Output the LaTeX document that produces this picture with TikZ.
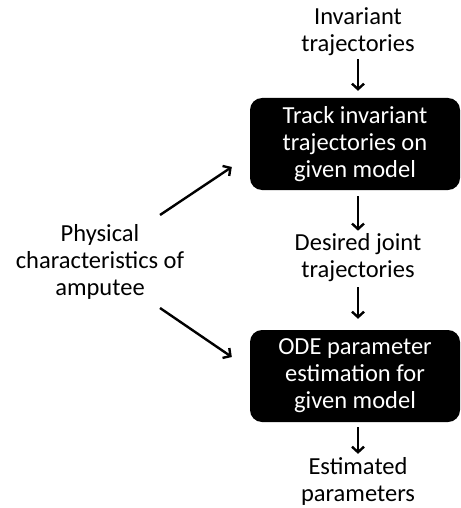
\documentclass[tikz,border=0pt]{standalone}
\usepackage{fontspec}
\setmainfont{Carlito}
\usetikzlibrary{arrows.meta,positioning,calc}
\tikzset{
  >={Straight Barb[length=5.5pt,width=12pt]},
  stepbox/.style={rectangle, rounded corners=12pt, fill=black, text=white,
                  minimum width=210pt, minimum height=92pt, align=center, inner sep=0pt},
  plaintext/.style={align=center, inner sep=0pt},
  flow/.style={draw, line width=2.4pt, ->}
}

\begin{document}
\begin{tikzpicture}[x=1pt,y=-1pt,every node/.style={font=\fontsize{24.5}{27}\selectfont}]
    \useasboundingbox (0,0) rectangle (460,508);
    % Main chain
    \node (inv) at (358,32) [plaintext] {Invariant\\trajectories};
    \node (track) at (355,144) [stepbox] {Track invariant\\trajectories on\\given model};
    \node (desired) at (358,258) [plaintext] {Desired joint\\trajectories};
    \node (ode) at (355,376) [stepbox] {ODE parameter\\estimation for\\given model};
    \node (est) at (358,481) [plaintext] {Estimated\\parameters};
    % Side input
    \node (phys) at (100,262) [plaintext] {Physical\\characteristics of\\amputee};
    % Arrows
    \draw [flow,shorten <=3pt,shorten >=7pt] (inv.south) -- (inv.south |- track.north);
    \draw [flow,shorten <=6pt,shorten >=3pt] (track.south -| desired.north) -- (desired.north);
    \draw [flow,shorten <=5pt,shorten >=11pt] (desired.south) -- (desired.south |- ode.north);
    \draw [flow,shorten <=5pt,shorten >=3pt] (ode.south -| est.north) -- (est.north);
    \draw [flow] ([xshift=60pt,yshift=47pt]phys.center) -- ([xshift=-18pt,yshift=-23pt]track.west);
    \draw [flow] ([xshift=60pt,yshift=-46pt]phys.center) -- ([xshift=-18pt,yshift=19pt]ode.west);
\end{tikzpicture}
\end{document}
